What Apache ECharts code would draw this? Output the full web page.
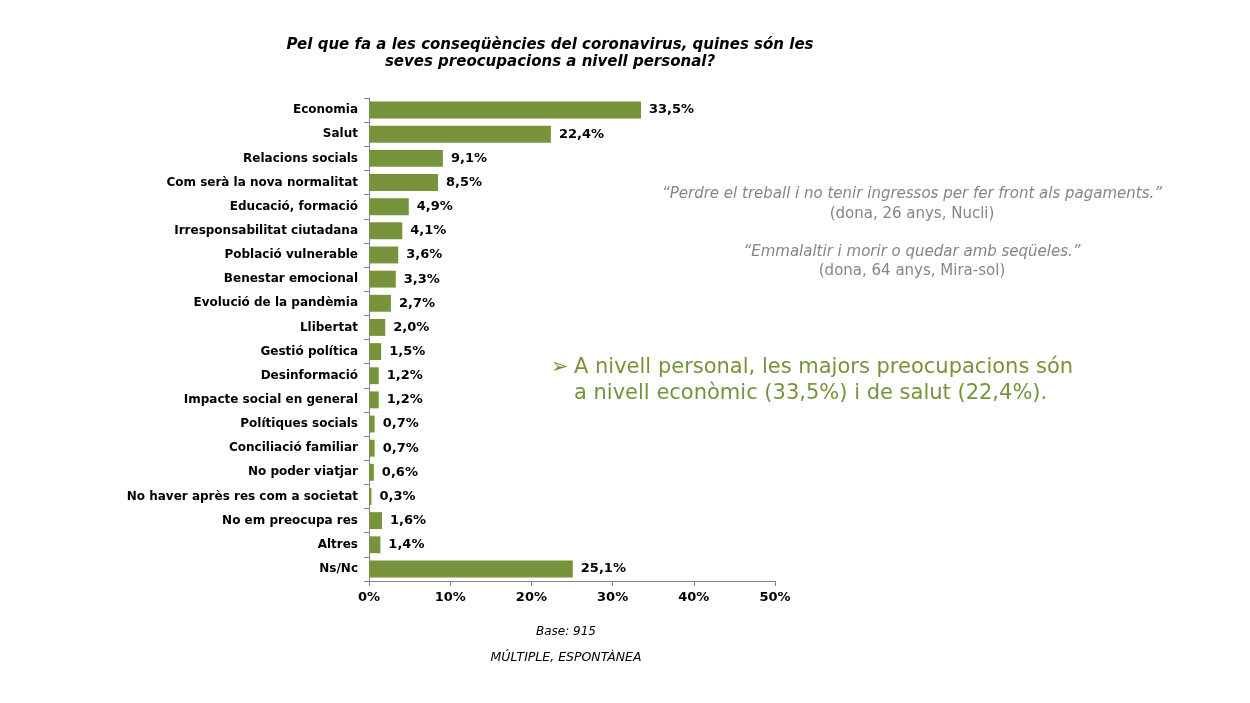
<!DOCTYPE html>
<html><head><meta charset="utf-8">
<script src="https://cdn.jsdelivr.net/npm/echarts@6/dist/echarts.min.js"></script>
<style>html,body{margin:0;padding:0;background:#fff}#c{width:1250px;height:703px}</style>
</head><body><div id="c"></div>
<script>
const categories = ["Economia","Salut","Relacions socials","Com serà la nova normalitat","Educació, formació","Irresponsabilitat ciutadana","Població vulnerable","Benestar emocional","Evolució de la pandèmia","Llibertat","Gestió política","Desinformació","Impacte social en general","Polítiques socials","Conciliació familiar","No poder viatjar","No haver après res com a societat","No em preocupa res","Altres","Ns/Nc"];
const values = [33.5,22.4,9.1,8.5,4.9,4.1,3.6,3.3,2.7,2.0,1.5,1.2,1.2,0.7,0.7,0.6,0.3,1.6,1.4,25.1];
const xTicks = [0,10,20,30,40,50];

const font = "DejaVu Sans, Verdana, sans-serif";
const green = "#77933C";
const chart = echarts.init(document.getElementById('c'));
chart.setOption({
  animation:false,
  grid:{left:369,right:475,top:98,bottom:122,containLabel:false},
  xAxis:{type:'value',min:xTicks[0],max:xTicks[xTicks.length-1],interval:10,
    axisLine:{show:true,lineStyle:{color:'#868686',width:1}},
    axisTick:{show:true,length:5,lineStyle:{color:'#868686'}},
    splitLine:{show:false},
    axisLabel:{formatter:v=>v+'%',fontFamily:font,fontWeight:'bold',fontSize:13,color:'#000',margin:10}},
  yAxis:{type:'category',data:categories,inverse:true,
    axisLine:{show:true,lineStyle:{color:'#868686',width:1}},
    axisTick:{show:true,length:5,lineStyle:{color:'#868686'}},
    axisLabel:{fontFamily:font,fontWeight:'bold',fontSize:12,color:'#000',margin:11}},
  series:[{type:'bar',data:values,barCategoryGap:'30%',
    itemStyle:{color:green},
    label:{show:true,position:'right',distance:8,formatter:p=>p.value.toFixed(1).replace('.',',')+'%',
      fontFamily:font,fontWeight:'bold',fontSize:13,color:'#000'}}],
  graphic:[
    {type:'text',x:550,y:54,style:{text:'Pel que fa a les conseqüències del coronavirus, quines són les\nseves preocupacions a nivell personal?',
      font:'italic bold 15px '+font,fill:'#000',textAlign:'center',textVerticalAlign:'middle',lineHeight:17}},
    {type:'text',x:912,y:194,style:{text:'“Perdre el treball i no tenir ingressos per fer front als pagaments.”',
      font:'italic 15px '+font,fill:'#858585',textAlign:'center',textVerticalAlign:'middle'}},
    {type:'text',x:912,y:214,style:{text:'(dona, 26 anys, Nucli)',
      font:'15px '+font,fill:'#858585',textAlign:'center',textVerticalAlign:'middle'}},
    {type:'text',x:912,y:252,style:{text:'“Emmalaltir i morir o quedar amb seqüeles.”',
      font:'italic 15px '+font,fill:'#858585',textAlign:'center',textVerticalAlign:'middle'}},
    {type:'text',x:912,y:271,style:{text:'(dona, 64 anys, Mira-sol)',
      font:'15px '+font,fill:'#858585',textAlign:'center',textVerticalAlign:'middle'}},
    {type:'text',x:551,y:368,style:{text:'➢',font:'21px '+font,fill:green,textAlign:'left',textVerticalAlign:'middle'}},
    {type:'text',x:574,y:368,style:{text:'A nivell personal, les majors preocupacions són',font:'21px '+font,fill:green,textAlign:'left',textVerticalAlign:'middle'}},
    {type:'text',x:574,y:394,style:{text:'a nivell econòmic (33,5%) i de salut (22,4%).',font:'21px '+font,fill:green,textAlign:'left',textVerticalAlign:'middle'}},
    {type:'text',x:566,y:632,style:{text:'Base: 915',font:'italic 12px '+font,fill:'#000',textAlign:'center',textVerticalAlign:'middle'}},
    {type:'text',x:566,y:658,style:{text:'MÚLTIPLE, ESPONTÀNEA',font:'italic 12.5px '+font,fill:'#000',textAlign:'center',textVerticalAlign:'middle'}}
  ]
});
</script></body></html>
